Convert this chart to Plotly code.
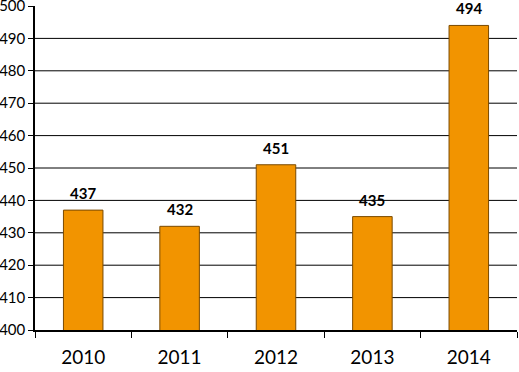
import plotly.graph_objects as go

years = ["2010", "2011", "2012", "2013", "2014"]
values = [437, 432, 451, 435, 494]
grid_values = [410, 420, 430, 440, 450, 460, 470, 480, 490]
y_ticks = [400, 410, 420, 430, 440, 450, 460, 470, 480, 490, 500]

FONT = "Lato, 'Open Sans', sans-serif"

fig = go.Figure()
fig.add_trace(go.Bar(
    x=years, y=values,
    marker=dict(color="#F29400", line=dict(color="#7A4A00", width=1)),
    hoverinfo="skip",
))

for v in grid_values:
    fig.add_shape(type="line", xref="paper", x0=0, x1=1, yref="y", y0=v, y1=v,
                  line=dict(color="#000000", width=1), layer="below")

for i, v in enumerate(values):
    fig.add_annotation(x=i, y=v, text=f"<b>{v}</b>", showarrow=False,
                       yanchor="bottom", yshift=6,
                       font=dict(family=FONT, size=15, color="#000000"))

fig.update_layout(
    width=519, height=372,
    margin=dict(l=35, r=2, t=6, b=42),
    paper_bgcolor="white", plot_bgcolor="white",
    showlegend=False,
    bargap=0.59,
    font=dict(family=FONT, color="#000000"),
)
fig.update_yaxes(range=[400, 500], tickvals=y_ticks, showgrid=False, automargin=False,
                 showline=True, linecolor="#000000", linewidth=1.5,
                 ticks="outside", ticklen=5, tickcolor="#000000",
                 ticklabeloverflow="allow",
                 tickfont=dict(size=15, family=FONT), zeroline=False)
fig.update_xaxes(type="category", range=[-0.5, 4.5], automargin=False,
                 showline=True, linecolor="#000000", linewidth=1.5,
                 ticks="outside", tickson="boundaries", ticklen=6, tickcolor="#000000",
                 tickangle=0, ticklabelstandoff=9,
                 tickfont=dict(size=19, family=FONT), showgrid=False)

fig.write_html("out.html", config={"displayModeBar": False},
               post_script="document.body.style.margin='0';document.body.style.overflow='hidden';")
